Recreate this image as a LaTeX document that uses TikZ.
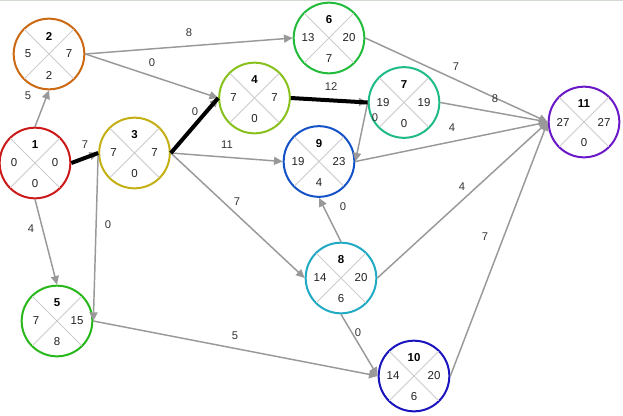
\documentclass[tikz,border=0pt]{standalone}
\usepackage{fontspec}
\setmainfont{Liberation Sans}
\usetikzlibrary{arrows.meta,calc}
\definecolor{c1}{HTML}{CC1A1A}
\definecolor{c2}{HTML}{CC6A14}
\definecolor{c3}{HTML}{C4B014}
\definecolor{c4}{HTML}{88C01C}
\definecolor{c5}{HTML}{28B81C}
\definecolor{c6}{HTML}{22BB3A}
\definecolor{c7}{HTML}{1EBB86}
\definecolor{c8}{HTML}{20AAC4}
\definecolor{c9}{HTML}{1452C8}
\definecolor{c10}{HTML}{1A14BE}
\definecolor{c11}{HTML}{6A18C8}
\definecolor{edgegray}{HTML}{999999}
\definecolor{crossgray}{HTML}{CCCCCC}
\definecolor{txt}{HTML}{222222}
\definecolor{lbltxt}{HTML}{333333}
\definecolor{topline}{HTML}{D2DAD2}
\tikzset{
  actc/.style={circle, fill=white, line width=1.5pt, minimum size=53pt, inner sep=0pt},
  xline/.style={draw=crossgray, line width=0.6pt, shorten <=1.2pt, shorten >=1.2pt},
  cell/.style={font=\fontsize{8.6}{10}\selectfont, text=txt, inner sep=0pt},
  numcell/.style={cell, font=\fontsize{8.6}{10}\selectfont\bfseries, text=black},
  arr/.style={draw=edgegray, line width=1.1pt, -{Triangle[length=6.5pt,width=6pt]}},
  crit/.style={draw=black, line width=3pt},
  wlbl/.style={font=\fontsize{8.4}{10}\selectfont, text=lbltxt, inner sep=0pt}
}
\newcommand\actv[8]{%
  \node[actc, draw=#4] (#1) at (#2,#3) {};
  \draw[xline] (#1.45) -- (#1.225);
  \draw[xline] (#1.135) -- (#1.315);
  \node[numcell] (#1-n) at ($(#1)+(0,-18)$) {#5};
  \node[cell] (#1-l) at ($(#1)+(-21,0)$) {#6};
  \node[cell] (#1-r) at ($(#1)+(20,0)$) {#7};
  \node[cell] (#1-b) at ($(#1)+(0,21)$) {#8};
}
\begin{document}
\begin{tikzpicture}[x=0.75pt,y=-0.75pt]
\useasboundingbox (0,0) rectangle (623,415);
\draw[topline, line width=0.9pt] (0,0.6) -- (623,0.6);
% activity nodes
\actv{n1}{35}{163}{c1}{1}{0}{0}{0}
\actv{n2}{49}{54}{c2}{2}{5}{7}{2}
\actv{n3}{134.5}{153}{c3}{3}{7}{7}{0}
\actv{n4}{254.5}{98}{c4}{4}{7}{7}{0}
\actv{n5}{57}{321}{c5}{5}{7}{15}{8}
\actv{n6}{329}{38}{c6}{6}{13}{20}{7}
\actv{n7}{404}{102.5}{c7}{7}{19}{19}{0}
\actv{n8}{341}{278}{c8}{8}{14}{20}{6}
\actv{n9}{319}{161.5}{c9}{9}{19}{23}{4}
\actv{n10}{414}{376}{c10}{10}{14}{20}{6}
\actv{n11}{584}{122}{c11}{11}{27}{27}{0}
% connectors
\draw[arr] (n1.north) -- (n2.south);
\draw[arr] (n1.east) -- (n3.west);
\draw[arr] (n1.south) -- (n5.north);
\draw[arr] (n2.east) -- (n6.west);
\draw[arr] (n2.east) -- (n4.west);
\draw[arr] (n3.east) -- (n4.west);
\draw[arr] (n3.east) -- (n9.west);
\draw[arr] (n3.east) -- (n8.west);
\draw[arr] (n3.west) -- (n5.east);
\draw[arr] (n4.east) -- (n7.west);
\draw[arr] (n6.east) -- (n11.west);
\draw[arr] (n7.east) -- (n11.west);
\draw[arr] (n7.west) -- (n9.east);
\draw[arr] (n9.east) -- (n11.west);
\draw[arr] (n8.north) -- (n9.south);
\draw[arr] (n8.east) -- (n11.west);
\draw[arr] (n8.south) -- (n10.west);
\draw[arr] (n5.east) -- (n10.west);
\draw[arr] (n10.east) -- (n11.west);
% critical path
\draw[crit] (n1.east) -- (n3.west);
\draw[crit] (n3.east) -- (n4.west);
\draw[crit] (n4.east) -- (n7.west);
% connector labels
\node[wlbl] (w12) at (28,96) {5};
\node[wlbl] (w13) at (85,145) {7};
\node[wlbl] (w15) at (31,229) {4};
\node[wlbl] (w26) at (189,33) {8};
\node[wlbl] (w24) at (152,63) {0};
\node[wlbl] (w34) at (195,112) {0};
\node[wlbl] (w39) at (227,145) {11};
\node[wlbl] (w38) at (237,202) {7};
\node[wlbl] (w35) at (108,225) {0};
\node[wlbl] (w47) at (331,87) {12};
\node[wlbl] (w611) at (456,67) {7};
\node[wlbl] (w711) at (495,99) {8};
\node[wlbl] (w79) at (375,118) {0};
\node[wlbl] (w911) at (452,128) {4};
\node[wlbl] (w89) at (343,207) {0};
\node[wlbl] (w811) at (462,187) {4};
\node[wlbl] (w810) at (358,333) {0};
\node[wlbl] (w510) at (235,336) {5};
\node[wlbl] (w1011) at (485,237) {7};
\end{tikzpicture}
\end{document}
